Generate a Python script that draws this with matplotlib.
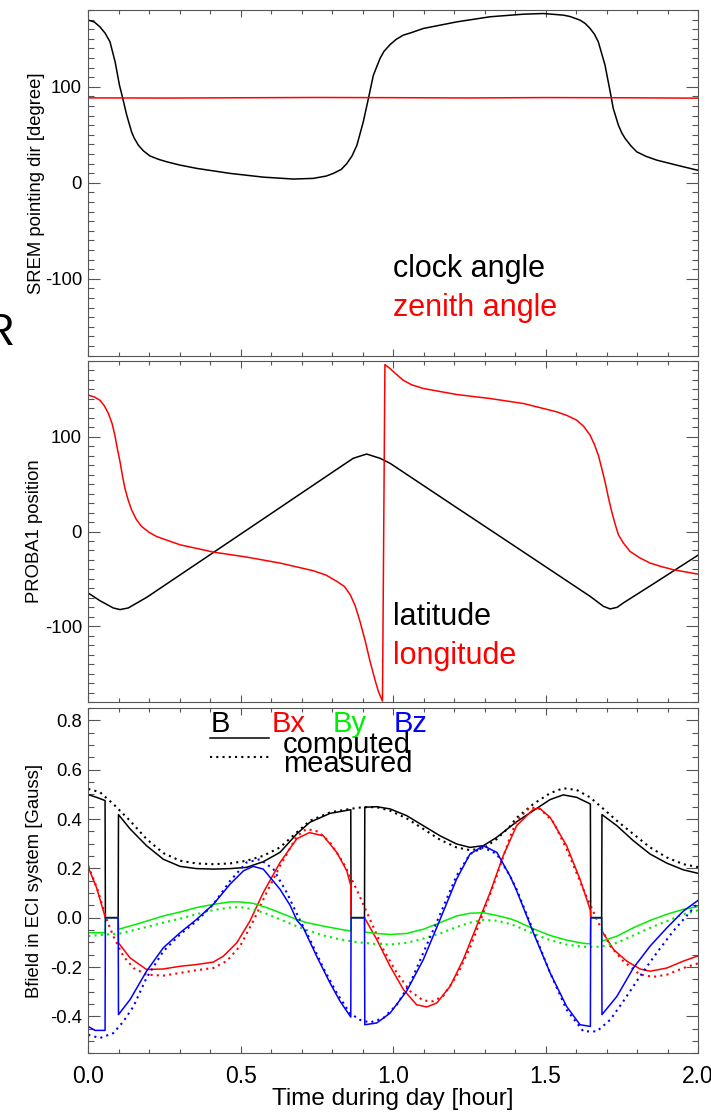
import matplotlib
matplotlib.use("Agg")
import matplotlib.pyplot as plt
from matplotlib.ticker import MultipleLocator

plt.rcParams['font.family'] = ['Liberation Sans', 'DejaVu Sans']
plt.rcParams['axes.unicode_minus'] = False

# --- SREM pointing direction ---
clock_t = [0, 0.02, 0.038, 0.055, 0.071, 0.088, 0.102, 0.113, 0.126, 0.142, 0.15, 0.164, 0.18,
           0.202, 0.23, 0.257, 0.3, 0.356, 0.465, 0.574, 0.673, 0.738, 0.78, 0.804, 0.83, 0.848,
           0.865, 0.881, 0.902, 0.919, 0.935, 0.957, 0.97, 0.99, 1.01, 1.033, 1.06, 1.099, 1.209,
           1.318, 1.428, 1.493, 1.558, 1.58, 1.613, 1.63, 1.646, 1.66, 1.673, 1.695, 1.712, 1.722,
           1.739, 1.75, 1.761, 1.78, 1.799, 1.83, 1.865, 1.930, 2.0]
clock_angle = [169.5, 167.5, 162.5, 156, 147, 126, 102, 88, 70.5, 53, 47, 39.3, 33.5,
               28, 24.5, 21.9, 18.5, 15, 9.8, 5.9, 3.9, 4.6, 7, 9.8, 14, 20,
               28, 39, 63.5, 88, 112, 129.6, 137, 144, 149.5, 153.8, 156.5, 160.8, 167.7,
               173, 175.7, 176.4, 174.7, 173.3, 169.5, 166, 160.8, 155, 146.9, 122.6, 94.8, 77.5,
               60, 52, 46.2, 38.5, 32.3, 27.5, 23.6, 18.4, 13]
zenith_t = [0, 0.25, 0.5, 0.75, 1.0, 1.25, 1.5, 1.75, 2.0]
zenith_angle = [88.5, 88.3, 88.6, 88.9, 88.7, 88.4, 88.8, 88.6, 88.2]

# --- PROBA1 position ---
lat_t = [0, 0.038, 0.082, 0.104, 0.131, 0.192, 0.41, 0.6, 0.8, 0.869, 0.913, 0.957, 0.99,
         1.2, 1.4, 1.646, 1.69, 1.712, 1.735, 1.755, 1.85, 2.0]
latitude = [-65, -73, -80.7, -82.4, -80.7, -69.4, -22.2, 19, 62.4, 77.3, 81.8, 77.3, 72,
            27, -15.7, -68.4, -79, -81.7, -80, -75.4, -56, -25]
lon_t = [0, 0.02, 0.038, 0.052, 0.066, 0.078, 0.087, 0.095, 0.104, 0.112, 0.12, 0.131, 0.142,
         0.158, 0.175, 0.2, 0.224, 0.301, 0.41, 0.52, 0.629, 0.738, 0.78, 0.815, 0.84, 0.859,
         0.875, 0.891, 0.908, 0.924, 0.94, 0.951, 0.965, 0.973, 0.99, 1.0, 1.033, 1.06, 1.099,
         1.209, 1.318, 1.428, 1.537, 1.57, 1.602, 1.625, 1.646, 1.66, 1.673, 1.684, 1.695, 1.706,
         1.717, 1.728, 1.739, 1.755, 1.777, 1.81, 1.843, 1.88, 1.919, 2.0]
longitude = [144, 142, 138.6, 133, 124.6, 114, 101.8, 88, 73.7, 59, 45.7, 33, 22.8,
             12.5, 5.3, -1, -5.3, -14, -21.7, -27, -33.3, -41.4, -46, -52.6, -58, -66.6,
             -78, -94.7, -115, -136.8, -156, -168.4, -179, 176.2, 172, 169, 159.7, 155, 151,
             144.6, 140.4, 135.1, 126.3, 122.5, 117.6, 111, 101.8, 92, 80.7, 67, 52.6, 36,
             21, 8, -3.5, -12, -21, -28, -33.3, -37, -40.3, -45]

# --- B field, computed (zero during data gaps) ---
b_t = [0, 0.027, 0.055, 0.056, 0.098, 0.099, 0.137, 0.191, 0.246, 0.301, 0.355, 0.41, 0.465,
       0.519, 0.574, 0.629, 0.662, 0.684, 0.727, 0.793, 0.861, 0.862, 0.906, 0.907, 0.946,
       0.99, 1.044, 1.099, 1.154, 1.208, 1.252, 1.296, 1.34, 1.383, 1.405, 1.46, 1.515, 1.558,
       1.602, 1.647, 1.648, 1.684, 1.685, 1.734, 1.788, 1.843, 1.898, 1.952, 2.0]
b_comp = [0.499, 0.488, 0.475, 0, 0, 0.418, 0.36, 0.292, 0.237, 0.208, 0.199, 0.197, 0.199,
          0.204, 0.227, 0.265, 0.31, 0.34, 0.387, 0.423, 0.438, 0, 0, 0.448, 0.45,
          0.441, 0.414, 0.373, 0.332, 0.299, 0.285, 0.292, 0.326, 0.368, 0.389, 0.434, 0.479, 0.498,
          0.488, 0.461, 0, 0, 0.418, 0.373, 0.312, 0.258, 0.221, 0.194, 0.18]
bm_t = [0, 0.038, 0.082, 0.137, 0.191, 0.246, 0.301, 0.355, 0.41, 0.465, 0.519, 0.574, 0.629,
        0.684, 0.727, 0.793, 0.858, 0.9, 0.946, 0.99, 1.044, 1.099, 1.154, 1.208, 1.252, 1.296,
        1.34, 1.383, 1.405, 1.46, 1.515, 1.558, 1.602, 1.646, 1.69, 1.734, 1.788, 1.843, 1.898,
        1.952, 2.0]
b_meas = [0.522, 0.509, 0.461, 0.393, 0.319, 0.262, 0.231, 0.22, 0.217, 0.22, 0.231, 0.251, 0.285,
          0.346, 0.393, 0.427, 0.441, 0.448, 0.448, 0.434, 0.403, 0.36, 0.316, 0.285, 0.274, 0.281,
          0.319, 0.37, 0.405, 0.461, 0.505, 0.525, 0.518, 0.488, 0.441, 0.393, 0.339, 0.285, 0.244,
          0.217, 0.205]

bx_t = [0, 0.027, 0.056, 0.098, 0.099, 0.137, 0.191, 0.246, 0.301, 0.355, 0.41, 0.443, 0.487,
        0.53, 0.574, 0.629, 0.684, 0.725, 0.771, 0.815, 0.848, 0.861, 0.862, 0.906, 0.946, 0.99,
        1.034, 1.077, 1.11, 1.143, 1.187, 1.23, 1.274, 1.318, 1.361, 1.405, 1.46, 1.48, 1.515,
        1.569, 1.613, 1.647, 1.648, 1.684, 1.685, 1.723, 1.766, 1.81, 1.843, 1.898, 1.952, 2.0]
bx_comp = [0.204, 0.122, 0.0, 0.0, -0.102, -0.163, -0.21, -0.208, -0.197, -0.19, -0.18, -0.156, -0.102,
           -0.014, 0.102, 0.224, 0.32, 0.345, 0.332, 0.265, 0.19, 0.13, 0.0, 0.0, -0.088, -0.197,
           -0.292, -0.353, -0.362, -0.346, -0.278, -0.17, -0.034, 0.102, 0.251, 0.373, 0.44, 0.444, 0.407,
           0.292, 0.156, 0.03, 0.0, 0.0, -0.054, -0.129, -0.176, -0.208, -0.217, -0.204, -0.176, -0.155]
bxm_t = [0, 0.03, 0.06, 0.082, 0.115, 0.148, 0.191, 0.246, 0.301, 0.355, 0.41, 0.454, 0.498,
         0.541, 0.585, 0.629, 0.684, 0.716, 0.754, 0.793, 0.836, 0.88, 0.924, 0.968, 1.012, 1.056,
         1.099, 1.132, 1.165, 1.208, 1.252, 1.296, 1.34, 1.383, 1.405, 1.449, 1.482, 1.526, 1.569,
         1.624, 1.668, 1.712, 1.755, 1.81, 1.854, 1.898, 1.952, 2.0]
bx_meas = [0.21, 0.115, -0.007, -0.075, -0.156, -0.204, -0.231, -0.235, -0.224, -0.213, -0.204, -0.176, -0.115,
           -0.014, 0.102, 0.21, 0.33, 0.36, 0.349, 0.305, 0.224, 0.115, -0.007, -0.129, -0.224, -0.298,
           -0.336, -0.339, -0.316, -0.237, -0.122, 0.02, 0.17, 0.326, 0.393, 0.448, 0.441, 0.387, 0.278,
           0.115, -0.007, -0.115, -0.176, -0.231, -0.240, -0.231, -0.204, -0.185]

by_t = [0, 0.049, 0.055, 0.056, 0.098, 0.099, 0.137, 0.191, 0.246, 0.301, 0.355, 0.41, 0.465,
        0.498, 0.541, 0.585, 0.629, 0.684, 0.716, 0.771, 0.826, 0.861, 0.862, 0.906, 0.907, 0.946,
        0.99, 1.044, 1.099, 1.154, 1.208, 1.252, 1.296, 1.34, 1.383, 1.405, 1.46, 1.515, 1.569,
        1.624, 1.647, 1.648, 1.684, 1.685, 1.734, 1.788, 1.843, 1.898, 1.952, 2.0]
by_comp = [-0.061, -0.061, -0.061, 0, 0, -0.047, -0.034, -0.014, 0.007, 0.023, 0.041, 0.054, 0.064,
           0.064, 0.058, 0.041, 0.02, -0.007, -0.02, -0.034, -0.047, -0.054, 0, 0, -0.058, -0.064,
           -0.068, -0.064, -0.047, -0.02, 0.007, 0.018, 0.02, 0.009, -0.004, -0.014, -0.045, -0.072, -0.091,
           -0.104, -0.106, 0, 0, -0.095, -0.075, -0.041, -0.011, 0.014, 0.034, 0.045]
bym_t = [0, 0.06, 0.104, 0.137, 0.191, 0.246, 0.301, 0.355, 0.41, 0.465, 0.498, 0.541, 0.585,
         0.629, 0.684, 0.716, 0.771, 0.826, 0.88, 0.935, 0.99, 1.044, 1.099, 1.154, 1.208, 1.252,
         1.296, 1.34, 1.383, 1.405, 1.46, 1.515, 1.569, 1.624, 1.679, 1.734, 1.788, 1.843, 1.898,
         1.952, 2.0]
by_meas = [-0.075, -0.068, -0.064, -0.054, -0.038, -0.02, -0.004, 0.014, 0.031, 0.041, 0.043, 0.034, 0.016,
           -0.007, -0.035, -0.05, -0.072, -0.088, -0.099, -0.106, -0.109, -0.102, -0.085, -0.064, -0.038, -0.02,
           -0.009, -0.012, -0.025, -0.035, -0.065, -0.091, -0.109, -0.118, -0.118, -0.102, -0.072, -0.041, -0.014,
           0.014, 0.03]

bz_t = [0, 0.022, 0.049, 0.055, 0.056, 0.098, 0.099, 0.137, 0.191, 0.246, 0.301, 0.355, 0.41,
        0.465, 0.509, 0.541, 0.574, 0.629, 0.662, 0.684, 0.705, 0.749, 0.793, 0.826, 0.861, 0.862,
        0.906, 0.907, 0.946, 0.99, 1.044, 1.099, 1.154, 1.208, 1.252, 1.296, 1.34, 1.383, 1.405,
        1.46, 1.515, 1.569, 1.613, 1.647, 1.648, 1.684, 1.685, 1.734, 1.788, 1.843, 1.898, 1.952, 2.0]
bz_comp = [-0.441, -0.457, -0.457, -0.457, 0, 0, -0.393, -0.332, -0.217, -0.122, -0.061, -0.007, 0.054,
           0.136, 0.19, 0.208, 0.197, 0.115, 0.05, -0.01, -0.04, -0.156, -0.265, -0.339, -0.403, 0,
           0, -0.434, -0.427, -0.387, -0.298, -0.17, -0.007, 0.156, 0.258, 0.292, 0.265, 0.17, 0.11,
           -0.061, -0.224, -0.36, -0.434, -0.441, 0, 0, -0.393, -0.319, -0.204, -0.115, -0.041, 0.027, 0.07]
bzm_t = [0, 0.038, 0.082, 0.115, 0.148, 0.191, 0.246, 0.301, 0.355, 0.41, 0.465, 0.519, 0.563,
         0.607, 0.651, 0.694, 0.727, 0.771, 0.815, 0.858, 0.891, 0.924, 0.968, 1.012, 1.056, 1.099,
         1.154, 1.208, 1.252, 1.296, 1.34, 1.383, 1.405, 1.46, 1.515, 1.569, 1.624, 1.668, 1.712,
         1.755, 1.81, 1.865, 1.919, 2.0]
bz_meas = [-0.475, -0.488, -0.468, -0.421, -0.36, -0.244, -0.136, -0.068, -0.014, 0.054, 0.149, 0.224, 0.237,
           0.197, 0.102, -0.01, -0.088, -0.204, -0.305, -0.387, -0.414, -0.425, -0.407, -0.353, -0.265, -0.142,
           0.014, 0.17, 0.258, 0.285, 0.258, 0.17, 0.115, -0.054, -0.224, -0.373, -0.461, -0.461, -0.414,
           -0.339, -0.237, -0.142, -0.054, 0.06]

RED, GREEN, BLUE = '#ff0000', '#00ee00', '#0000ff'
FRAME = '#555555'
LW = 1.1
DOT = (0, (1.0, 2.0))


def style_axis(ax, ylim, major, minor, fmt=None):
    ax.set_xlim(0, 2.0)
    ax.set_ylim(*ylim)
    ax.xaxis.set_major_locator(MultipleLocator(0.5))
    ax.xaxis.set_minor_locator(MultipleLocator(0.1))
    ax.yaxis.set_major_locator(MultipleLocator(major))
    ax.yaxis.set_minor_locator(MultipleLocator(minor))
    ax.tick_params(which='both', direction='in', top=True, right=True, color=FRAME, width=0.8)
    ax.tick_params(axis='x', which='major', length=5.3)
    ax.tick_params(axis='x', which='minor', length=2.7)
    ax.tick_params(axis='y', which='major', length=8.8, labelsize=13.3, pad=4.5)
    ax.tick_params(axis='y', which='minor', length=4.4)
    for s in ax.spines.values():
        s.set_color(FRAME)
        s.set_linewidth(0.8)
    if fmt:
        ax.yaxis.set_major_formatter(fmt)


fig = plt.figure(figsize=(7.11, 11.17), dpi=100)
left, width = 0.1242, 0.8575
ax1 = fig.add_axes([left, 0.6817, width, 0.3093])
ax2 = fig.add_axes([left, 0.3715, width, 0.3053])
ax3 = fig.add_axes([left, 0.0570, width, 0.3091])

# top panel
ax1.plot(clock_t, clock_angle, color='black', lw=LW)
ax1.plot(zenith_t, zenith_angle, color=RED, lw=LW)
style_axis(ax1, (-180, 180), 100, 10)
ax1.set_xticklabels([])
ax1.set_ylabel('SREM pointing dir [degree]', fontsize=13.3, labelpad=0)
ax1.text(1.0, -98, 'clock angle', color='black', fontsize=22)
ax1.text(1.0, -139, 'zenith angle', color=RED, fontsize=22)

# middle panel
ax2.plot(lat_t, latitude, color='black', lw=LW)
ax2.plot(lon_t, longitude, color=RED, lw=LW)
style_axis(ax2, (-180, 180), 100, 10)
ax2.set_xticklabels([])
ax2.set_ylabel('PROBA1 position', fontsize=13.3, labelpad=1)
ax2.text(1.0, -99, 'latitude', color='black', fontsize=22)
ax2.text(1.0, -139.5, 'longitude', color=RED, fontsize=22)

# bottom panel: computed (solid) vs measured (dotted)
series = [(b_t, b_comp, bm_t, b_meas, 'black'),
          (bx_t, bx_comp, bxm_t, bx_meas, RED),
          (by_t, by_comp, bym_t, by_meas, GREEN),
          (bz_t, bz_comp, bzm_t, bz_meas, BLUE)]
for tc, yc, tm, ym, col in series:
    ax3.plot(tc, yc, color=col, lw=LW)
    ax3.plot(tm, ym, color=col, lw=1.5, linestyle=DOT)
style_axis(ax3, (-0.55, 0.85), 0.2, 0.05, fmt='{x:.1f}')
ax3.tick_params(axis='x', which='major', labelsize=16.5, pad=8.5)
ax3.set_ylabel('Bfield in ECI system [Gauss]', fontsize=13.3, labelpad=5)
ax3.set_xlabel('Time during day [hour]', fontsize=17.5, labelpad=0)

for xpos, name, col in [(0.40, 'B', 'black'), (0.60, 'Bx', RED), (0.80, 'By', GREEN), (1.0, 'Bz', BLUE)]:
    ax3.text(xpos, 0.754, name, color=col, fontsize=21)
ax3.plot([0.20, 0.297], [0.913, 0.913], transform=ax3.transAxes, color='black', lw=LW)
ax3.plot([0.20, 0.297], [0.858, 0.858], transform=ax3.transAxes, color='black', lw=1.5, linestyle=DOT)
ax3.text(0.638, 0.669, 'computed', fontsize=21)
ax3.text(0.638, 0.591, 'measured', fontsize=21)

fig.text(0.020, 0.691, 'R', fontsize=32, ha='right')

fig.savefig('out.png', dpi=100)
